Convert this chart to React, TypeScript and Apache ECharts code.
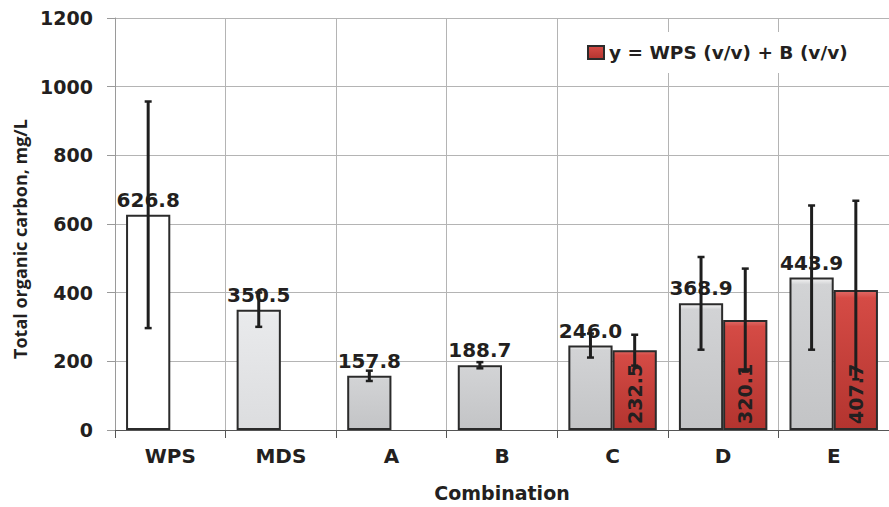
import React, { useEffect, useRef } from "react";
import * as echarts from "echarts";

const categories = ["WPS", "MDS", "A", "B", "C", "D", "E"];
const singleValues = [626.8, 350.5, 157.8, 188.7, 246.0, 368.9, 443.9];
const singleErrors = [330, 50, 15, 9, 35, 135, 210];
const mixValues: (number | null)[] = [null, null, null, null, 232.5, 320.1, 407.7];
const mixErrors: (number | null)[] = [null, null, null, null, 45, 150, 260];
const legendLabel = "y = WPS (v/v) + B (v/v)";
const yAxisTitle = "Total organic carbon, mg/L";
const xAxisTitle = "Combination";

const singleFillsTop = ["#ffffff", "#e9eaec", "#d2d3d5", "#d2d3d5", "#d2d3d5", "#d2d3d5", "#d2d3d5"];
const singleFillsBottom = ["#ffffff", "#dcdddf", "#c3c4c6", "#c3c4c6", "#c3c4c6", "#c3c4c6", "#c3c4c6"];

const TEXT = "#231f20";
const NUM_FONT = "DejaVu Sans";
const WORD_FONT = "Open Sans";

export default function App() {
  const ref = useRef<HTMLDivElement>(null);
  useEffect(() => {
    if (!ref.current) return;
    const chart = echarts.init(ref.current, undefined, { renderer: "svg" });

    const grad = (top: string, bottom: string) =>
      new echarts.graphic.LinearGradient(0, 0, 0, 1, [
        { offset: 0, color: "#f4f4f4" },
        { offset: 0.04, color: top },
        { offset: 1, color: bottom },
      ]);

    const singleData = singleValues.map((v, i) => ({
      value: v,
      itemStyle: { color: i === 0 ? "#ffffff" : grad(singleFillsTop[i], singleFillsBottom[i]) },
    }));

    const errData: any[] = [];
    singleValues.forEach((v, i) => errData.push([i, v, singleErrors[i], -1]));
    mixValues.forEach((v, i) => {
      if (v != null && mixErrors[i] != null) errData.push([i, v, mixErrors[i], 1]);
    });

    const redGrad = new echarts.graphic.LinearGradient(0, 0, 0, 1, [
      { offset: 0, color: "#e06a66" },
      { offset: 0.05, color: "#d54b45" },
      { offset: 1, color: "#b3342f" },
    ]);

    chart.setOption({
      animation: false,
      backgroundColor: "#ffffff",
      grid: { left: 115, right: -6, top: 18, bottom: 74, containLabel: false },
      legend: {
        data: [legendLabel],
        left: 575,
        top: 32,
        padding: [11, 12, 11, 12],
        backgroundColor: "#ffffff",
        itemWidth: 16,
        itemHeight: 13,
        itemGap: 6,
        icon: "rect",
        textStyle: { fontFamily: NUM_FONT, fontWeight: "bold", fontSize: 18.5, color: TEXT },
      },
      xAxis: {
        type: "category",
        data: categories,
        name: xAxisTitle,
        nameLocation: "middle",
        nameGap: 53,
        nameTextStyle: { fontFamily: NUM_FONT, fontWeight: "bold", fontSize: 19, color: TEXT },
        axisLine: { show: true, lineStyle: { color: "#555555", width: 1 } },
        axisTick: { show: true, length: 8, interval: 0, lineStyle: { color: "#555555" } },
        axisLabel: {
          margin: 16,
          interval: 0,
          fontFamily: NUM_FONT,
          fontWeight: "bold",
          fontSize: 20,
          color: TEXT,
        },
        splitLine: { show: true, interval: 0, lineStyle: { color: "#b4b4b4", width: 1 } },
      },
      yAxis: {
        type: "value",
        min: 0,
        max: 1200,
        interval: 200,
        axisLine: { show: true, lineStyle: { color: "#9a9a9a", width: 1 } },
        axisTick: { show: true, length: 8, lineStyle: { color: "#9a9a9a" } },
        axisLabel: {
          margin: 22,
          fontFamily: NUM_FONT,
          fontWeight: "bold",
          fontSize: 19,
          color: TEXT,
          formatter: (v: number) => String(v),
        },
        splitLine: { show: true, lineStyle: { color: "#b4b4b4", width: 1 } },
      },
      graphic: [
        {
          type: "text",
          x: 20,
          y: 239,
          rotation: Math.PI / 2,
          style: {
            text: yAxisTitle,
            font: `bold 18px "${WORD_FONT}"`,
            fill: TEXT,
            textAlign: "center",
            textVerticalAlign: "middle",
          },
        },
      ],
      series: [
        {
          name: "single",
          type: "bar",
          data: singleData,
          barCategoryGap: "20%",
          barGap: "0%",
          itemStyle: { borderColor: "#2b2b2b", borderWidth: 2 },
          label: {
            show: true,
            position: "top",
            distance: 5,
            fontFamily: NUM_FONT,
            fontWeight: "bold",
            fontSize: 20,
            color: TEXT,
            formatter: (p: any) => Number(p.value).toFixed(1),
          },
          z: 2,
        },
        {
          name: legendLabel,
          type: "bar",
          data: mixValues,
          barCategoryGap: "20%",
          barGap: "0%",
          itemStyle: { color: redGrad, borderColor: "#2b2b2b", borderWidth: 2 },
          label: {
            show: true,
            position: "insideBottom",
            distance: 6,
            rotate: 90,
            align: "left",
            verticalAlign: "middle",
            fontFamily: NUM_FONT,
            fontWeight: "bold",
            fontSize: 19,
            color: TEXT,
            formatter: (p: any) => Number(p.value).toFixed(1),
          },
          z: 2,
        },
        {
          type: "custom",
          data: errData,
          encode: { x: 0, y: 1 },
          z: 5,
          silent: true,
          renderItem: (params: any, api: any) => {
            const ci = api.value(0);
            const v = api.value(1);
            const e = api.value(2);
            const slot = api.value(3);
            const catW = api.size([1, 0])[0];
            const c = api.coord([ci, v]);
            const x = c[0] + slot * catW * 0.2;
            const top = api.coord([ci, v + e])[1];
            const bot = api.coord([ci, v - e])[1];
            const hw = 3.5;
            const st = { stroke: "#1e1e1e", lineWidth: 3 };
            return {
              type: "group",
              children: [
                { type: "line", shape: { x1: x, y1: top, x2: x, y2: bot }, style: st },
                { type: "line", shape: { x1: x - hw, y1: top, x2: x + hw, y2: top }, style: { ...st, lineWidth: 2.5 } },
                { type: "line", shape: { x1: x - hw, y1: bot, x2: x + hw, y2: bot }, style: { ...st, lineWidth: 2.5 } },
              ],
            };
          },
        },
      ],
    });
    return () => chart.dispose();
  }, []);
  return (
    <div
      ref={ref}
      style={{ position: "fixed", left: 0, top: 0, width: 889, height: 507, background: "#fff" }}
    />
  );
}
